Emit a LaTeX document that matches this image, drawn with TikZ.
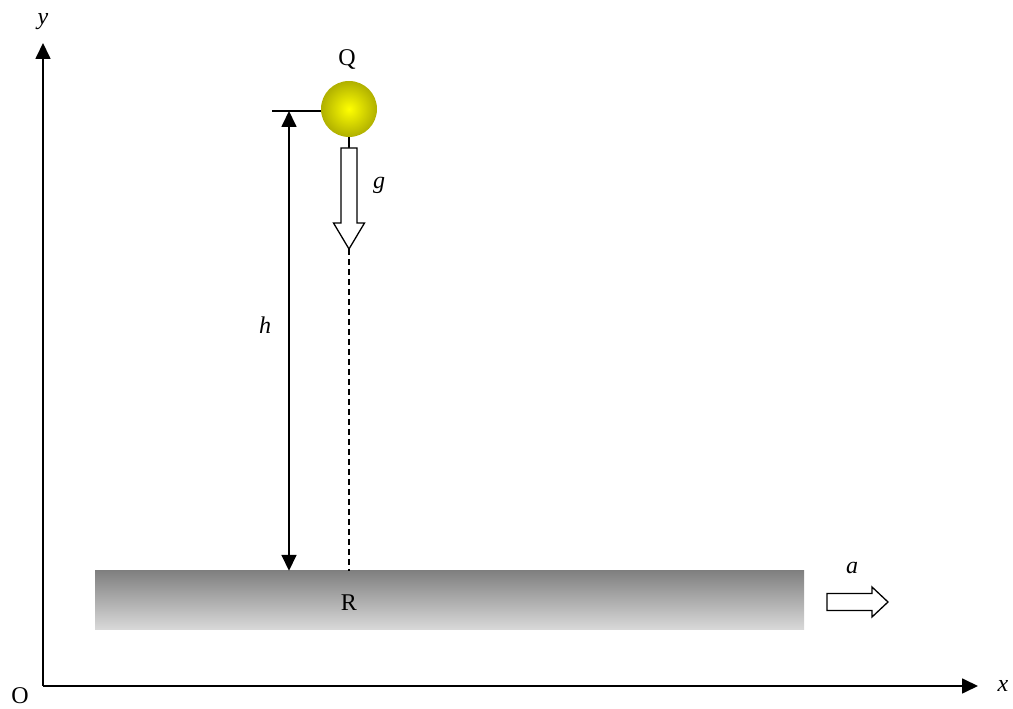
\documentclass[tikz,border=0pt]{standalone}
\usepackage{fontspec}
\setmainfont{Liberation Serif}
\usetikzlibrary{arrows.meta}
\definecolor{slabTop}{RGB}{128,128,128}
\definecolor{slabBottom}{RGB}{218,218,218}
\definecolor{ballEdge}{RGB}{176,176,0}
\begin{document}
\begin{tikzpicture}
[x=1pt,y=1pt,
  lineDecorate/.style={line width=1.7pt},%
  axisDecorate/.style={line width=1.7pt,-{Triangle[length=16pt,width=15pt]}},%
  heightDecorate/.style={line width=1.7pt,{Triangle[length=16pt,width=15pt]}-{Triangle[length=16pt,width=15pt]}},%
  hollowDecorate/.style={line width=1.3pt,fill=white,line join=miter},%
  labelDecorate/.style={inner sep=0pt,font=\fontsize{24}{28}\selectfont}]
\useasboundingbox (0,0) rectangle (1013,709);
%% axes
\coordinate (O) at (43,23);
\coordinate (yEnd) at (43,666);
\coordinate (xEnd) at (978,23);
\draw[axisDecorate] (O) -- (yEnd);
\draw[axisDecorate] (O) -- (xEnd);
%% slab and ball
\node (slab) at (449.5,108.5) [minimum width=709pt,minimum height=59pt,inner sep=0pt,
  shading=axis,top color=slabTop,bottom color=slabBottom] {};
\node (ball) at (349,600) [circle,minimum size=56pt,inner sep=0pt,
  shading=radial,inner color=yellow,outer color=ballEdge] {};
%% labels
\foreach \nodename/\x/\y/\txt in {yLabel/43/687/y, xLabel/1003/23/x, hLabel/265/384/h,
  gLabel/379/524/g, aLabel/852/141/a}
{
  \node (\nodename) at (\x,\y) [labelDecorate] {\itshape\txt};
}
\foreach \nodename/\x/\y/\txt in {OLabel/20/13/O, Q/347/649/Q, R/349/106/R}
{
  \node (\nodename) at (\x,\y) [labelDecorate] {\txt};
}
%% height h
\coordinate (hLeft) at (272,598);
\coordinate (hTop) at (289,598);
\draw[lineDecorate] (hLeft) -- (hLeft -| ball.west);
\draw[heightDecorate] (hTop) -- (hTop |- slab.north);
%% gravity arrow and drop line
\coordinate (gTop) at (349,561);
\coordinate (gTip) at (349,460);
\draw[line width=1.3pt] (ball.south) -- (gTop);
\draw[hollowDecorate] (gTop) ++(-8,0) -- ++(16,0) -- ++(0,-75) -- ++(7.5,0)
  -- (gTip) -- ++(-15.5,26) -- ++(7.5,0) -- cycle;
\draw[line width=1.3pt,dash pattern=on 6pt off 4pt] (gTip) -- (gTip |- slab.north);
%% acceleration arrow
\coordinate (aTail) at (827,107);
\draw[hollowDecorate] (aTail) ++(0,8.5) -- ++(45,0) -- ++(0,6.5) -- ++(16,-15)
  -- ++(-16,-15) -- ++(0,6.5) -- ++(-45,0) -- cycle;
\end{tikzpicture}
\end{document}
